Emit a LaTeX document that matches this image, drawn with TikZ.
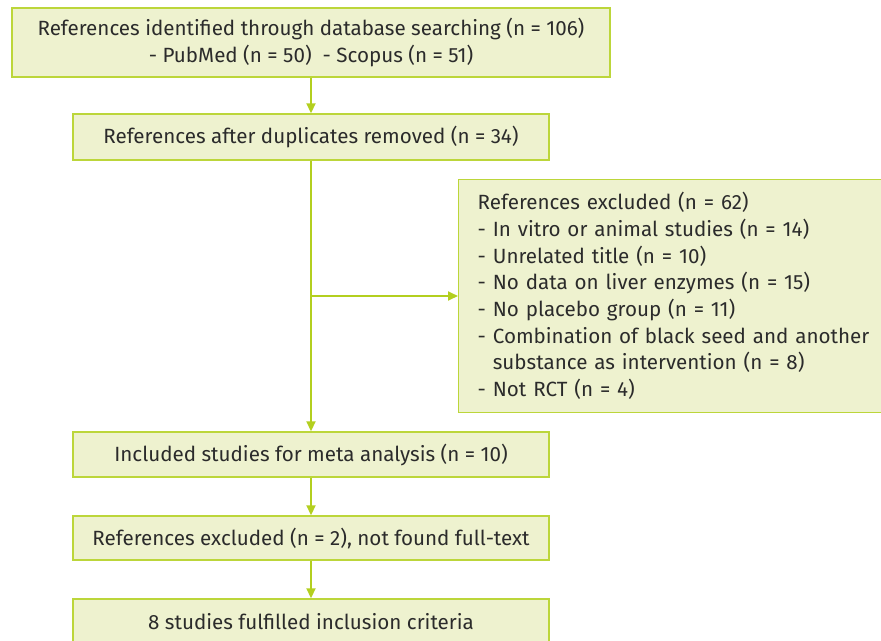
\documentclass[tikz,border=0pt]{standalone}
\usepackage{fontspec}
\setmainfont{Fira Sans}
\usetikzlibrary{arrows.meta}
\definecolor{boxfill}{HTML}{EEF2CF}
\definecolor{boxline}{HTML}{BCD63A}
\definecolor{arrowcol}{HTML}{B3CF1F}
\definecolor{txt}{HTML}{2B2B2B}
\tikzset{
  flowbox/.style={draw=boxline, fill=boxfill, line width=1.4pt, text=txt,
    font=\fontsize{20.6}{26.7}\selectfont, inner sep=0pt, align=center},
  flowarr/.style={draw=arrowcol, line width=1.8pt,
    -{Triangle[length=10pt,width=9pt]}}
}
\begin{document}
\begin{tikzpicture}[x=1pt, y=-1pt]
    \useasboundingbox (0,0) rectangle (881,640);
    \begin{scope}
    \clip (0,0) rectangle (881,640);
    \node[flowbox, minimum width=598pt, minimum height=69pt] (B0) at (311, 42.5)
      {References identified through database searching (n = 106)\\
       - PubMed (n = 50)\ \ - Scopus (n = 51)};
    \node[flowbox, minimum width=476pt, minimum height=46pt] (B1) at (311, 137)
      {References after duplicates removed (n = 34)};
    \node[flowbox, anchor=west, align=left, text width=420pt, inner xsep=19pt,
      minimum height=233pt] (E0) at (458, 296)
      {References excluded (n = 62)\\
       - In vitro or animal studies (n = 14)\\
       - Unrelated title (n = 10)\\
       - No data on liver enzymes (n = 15)\\
       - No placebo group (n = 11)\\
       - Combination of black seed and another\\
       \phantom{- }substance as intervention (n = 8)\\
       - Not RCT (n = 4)};
    \node[flowbox, minimum width=476pt, minimum height=45pt] (B2) at (311, 454.5)
      {Included studies for meta analysis (n = 10)};
    \node[flowbox, minimum width=476pt, minimum height=44pt] (B3) at (311, 538)
      {References excluded (n = 2), not found full-text};
    \node[flowbox, minimum width=476pt, minimum height=46pt] (B4) at (311, 622)
      {8 studies fulfilled inclusion criteria};
    \end{scope}
    \coordinate (J0) at (B1.south |- E0.west);
    \path (B0) edge [flowarr] (B1);
    \path (B1) edge [flowarr] (B2);
    \path (J0) edge [flowarr] (E0.west);
    \path (B2) edge [flowarr] (B3);
    \path (B3) edge [flowarr] (B4);
  \end{tikzpicture}
\end{document}
